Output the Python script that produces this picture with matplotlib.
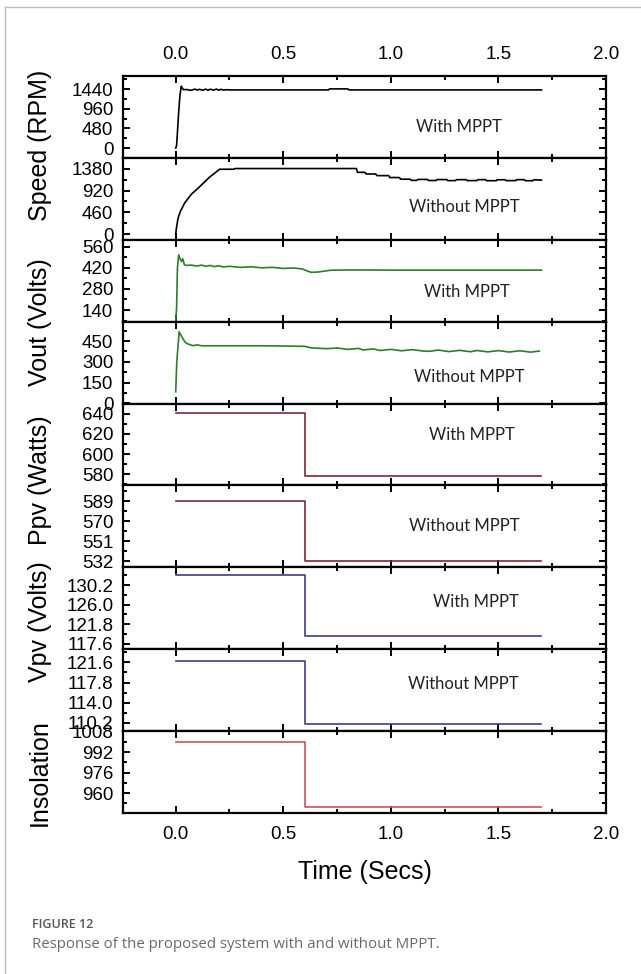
import matplotlib
matplotlib.use('Agg')
import matplotlib.pyplot as plt
from matplotlib.ticker import MultipleLocator, FormatStrFormatter
from matplotlib.lines import Line2D

plt.rcParams['font.family'] = 'Liberation Sans'

# speed with MPPT (RPM)
t_spd_mppt = [0, 0.004, 0.008, 0.014, 0.02, 0.026, 0.03, 0.036, 0.05, 0.07, 0.09, 0.1, 0.11,
              0.125, 0.14, 0.15, 0.16, 0.175, 0.19, 0.2, 0.21, 0.22, 0.24, 0.25, 0.71, 0.715,
              0.80, 0.805, 1.7]
spd_mppt = [0, 60, 380, 900, 1300, 1510, 1470, 1425, 1430, 1410, 1440, 1415, 1435,
            1412, 1440, 1410, 1438, 1415, 1440, 1412, 1435, 1418, 1425, 1420, 1420, 1445,
            1445, 1420, 1420]

# speed without MPPT (RPM)
t_spd_nompt = [0, 0.003, 0.011, 0.022, 0.042, 0.073, 0.111, 0.157, 0.204, 0.27, 0.275, 0.84,
               0.845, 0.88, 0.885, 0.93, 0.935, 0.99, 0.995, 1.04, 1.045, 1.09, 1.095, 1.12,
               1.125, 1.17, 1.175, 1.21, 1.215, 1.26, 1.265, 1.30, 1.305, 1.35, 1.355, 1.40,
               1.405, 1.44, 1.445, 1.49, 1.495, 1.53, 1.535, 1.58, 1.585, 1.62, 1.625, 1.66,
               1.665, 1.7]
spd_nompt = [0, 120, 337, 482, 661, 843, 1000, 1202, 1370, 1370, 1385, 1385,
             1305, 1305, 1270, 1270, 1235, 1235, 1195, 1195, 1160, 1160, 1135, 1135,
             1155, 1155, 1132, 1132, 1152, 1152, 1130, 1130, 1150, 1150, 1130, 1130,
             1150, 1150, 1128, 1128, 1148, 1148, 1130, 1130, 1150, 1150, 1128, 1128,
             1148, 1140]

# Vout with MPPT (V)
t_vout_mppt = [0, 0.004, 0.008, 0.014, 0.02, 0.027, 0.033, 0.04, 0.05, 0.07, 0.1, 0.12, 0.14,
               0.16, 0.18, 0.2, 0.22, 0.25, 0.3, 0.35, 0.4, 0.45, 0.5, 0.55, 0.59, 0.61, 0.63,
               0.66, 0.69, 0.72, 0.8, 1.0, 1.7]
vout_mppt = [70, 150, 420, 506, 480, 462, 480, 441, 436, 438, 432, 438, 430,
             436, 428, 434, 426, 430, 423, 427, 420, 423, 416, 419, 412, 400, 390,
             392, 398, 404, 406, 405, 405]

# Vout without MPPT (V)
t_vout_nompt = [0, 0.005, 0.016, 0.025, 0.034, 0.045, 0.057, 0.08, 0.1, 0.12, 0.2, 0.4, 0.6,
                0.63, 0.7, 0.75, 0.8, 0.85, 0.87, 0.92, 0.95, 1.0, 1.05, 1.1, 1.15, 1.18, 1.22,
                1.27, 1.32, 1.37, 1.4, 1.45, 1.5, 1.55, 1.6, 1.65, 1.69]
vout_nompt = [84, 300, 517, 490, 465, 440, 429, 417, 422, 416, 416, 416, 412,
              401, 395, 400, 390, 397, 386, 393, 382, 390, 380, 388, 378, 376, 385,
              374, 383, 373, 382, 372, 381, 371, 380, 370, 378]

# step signals
t_step = [0, 0.6, 0.6, 1.7]
ppv_mppt = [641, 641, 578, 578]
ppv_nompt = [589.5, 589.5, 532, 532]
vpv_mppt = [132.3, 132.3, 119.2, 119.2]
vpv_nompt = [121.8, 121.8, 109.9, 109.9]
insolation = [1000, 1000, 949, 949]

series = [(t_spd_mppt, spd_mppt), (t_spd_nompt, spd_nompt), (t_vout_mppt, vout_mppt),
          (t_vout_nompt, vout_nompt), (t_step, ppv_mppt), (t_step, ppv_nompt),
          (t_step, vpv_mppt), (t_step, vpv_nompt), (t_step, insolation)]
colors = ['black', 'black', '#2d7d2d', '#2d7d2d', '#7a2a35', '#7a2a35',
          '#3c3c8c', '#3c3c8c', '#c9545a']
ylims = [(-240, 1760), (-120, 1610), (63, 606), (-1, 590), (569, 650),
         (526.3, 604.2), (116.4, 134.0), (108.6, 124.1), (944.6, 1008.3)]
ysteps = [480, 460, 140, 150, 20, 19, 4.2, 3.8, 16]
yfmt = ['%d', '%d', '%d', '%d', '%d', '%d', '%.1f', '%.1f', '%d']
notes = [('With MPPT', 0.696, 0.381), ('Without MPPT', 0.707, 0.404),
         ('With MPPT', 0.712, 0.366), ('Without MPPT', 0.718, 0.321),
         ('With MPPT', 0.722, 0.615), ('Without MPPT', 0.707, 0.508),
         ('With MPPT', 0.731, 0.58), ('Without MPPT', 0.705, 0.575), None]

fig = plt.figure(figsize=(6.41, 9.74), dpi=100)
left, width = 123 / 641, 483 / 641
top_px, h_px = 76, 737 / 9

for i in range(9):
    bottom = 1 - (top_px + (i + 1) * h_px) / 974
    ax = fig.add_axes([left, bottom, width, h_px / 974])
    t, v = series[i]
    ax.plot(t, v, color=colors[i], lw=1.2)
    ax.set_xlim(-0.245, 2.0)
    ax.set_ylim(*ylims[i])
    ax.xaxis.set_major_locator(MultipleLocator(0.5))
    ax.xaxis.set_minor_locator(MultipleLocator(0.25))
    ax.yaxis.set_major_locator(MultipleLocator(ysteps[i]))
    ax.yaxis.set_minor_locator(MultipleLocator(ysteps[i] / 2))
    ax.yaxis.set_major_formatter(FormatStrFormatter(yfmt[i]))
    ax.xaxis.set_major_formatter(FormatStrFormatter('%.1f'))
    ax.tick_params(which='both', direction='in', top=True, right=True, width=1.4,
                   labelsize=13.5, pad=7)
    ax.tick_params(which='major', length=5)
    ax.tick_params(which='minor', length=3)
    ax.tick_params(axis='x', labelbottom=(i == 8), labeltop=(i == 0), pad=9.5)
    for s in ax.spines.values():
        s.set_linewidth(1.6)
    if notes[i]:
        txt, nx, ny = notes[i]
        ax.text(nx, ny, txt, transform=ax.transAxes, ha='center', va='center',
                fontsize=12, family='Lato', color='#222222')

# y labels, each spanning a pair of panels
ylabels = [('Speed (RPM)', 145), ('Vout (Volts)', 322), ('Ppv (Watts)', 480),
           ('Vpv (Volts)', 622), ('Insolation', 773)]
for lab, ypx in ylabels:
    fig.text(40 / 641, 1 - ypx / 974, lab, rotation=90, ha='center', va='center', fontsize=18)

fig.text(364.5 / 641, 1 - 872 / 974, 'Time (Secs)', ha='center', va='center', fontsize=18)

# caption
fig.text(32 / 641, 1 - 925 / 974, 'FIGURE 12', ha='left', va='center', fontsize=9,
         family='Open Sans', weight='semibold', color='#555555')
fig.text(32 / 641, 1 - 944 / 974, 'Response of the proposed system with and without MPPT.',
         ha='left', va='center', fontsize=10.8, family='Open Sans', color='#6a6a6a')

# page frame
fig.add_artist(Line2D([5 / 641, 1], [1 - 7 / 974, 1 - 7 / 974], color='#bbbbbb', lw=1))
fig.add_artist(Line2D([5 / 641, 5 / 641], [0, 1 - 7 / 974], color='#bbbbbb', lw=1))

fig.savefig('out.png', dpi=100)
